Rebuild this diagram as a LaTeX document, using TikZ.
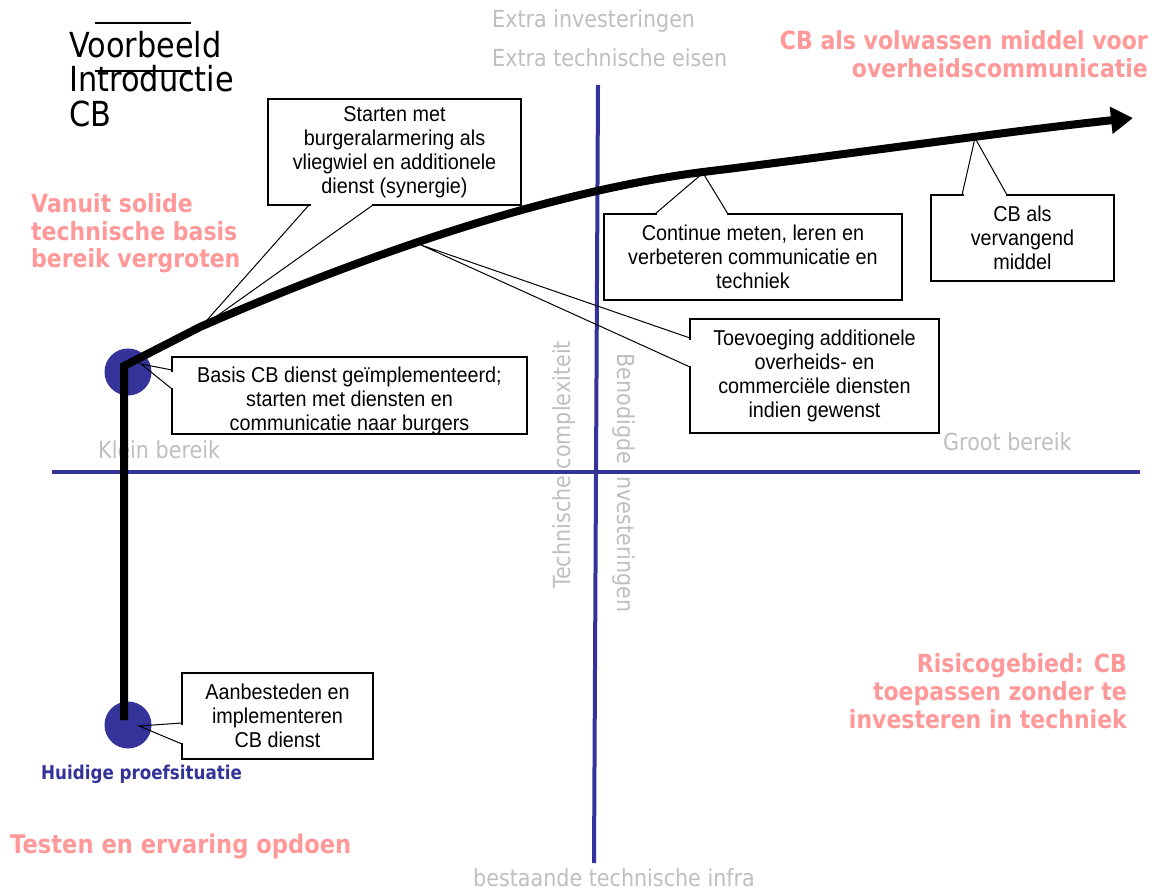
\documentclass[tikz,border=0pt]{standalone}
\usepackage{fontspec}
\setmainfont{Liberation Sans}[FakeStretch=0.92]
\newfontfamily\tah{DejaVu Sans}[FakeStretch=0.88]
\usetikzlibrary{arrows.meta}
\definecolor{axisblue}{HTML}{333399}
\definecolor{pinktxt}{HTML}{FF9999}
\definecolor{graytxt}{HTML}{BFBFBF}
\begin{document}
\begin{tikzpicture}[x=1pt,y=-1pt,
  graylbl/.style={font=\tah\fontsize{23.5}{28}\selectfont, text=graytxt, inner sep=0},
  pinklbl/.style={font=\tah\bfseries\fontsize{25}{28}\selectfont, text=pinktxt, inner sep=0},
  titlelbl/.style={font=\tah\fontsize{34.5}{34}\selectfont, text=black, inner sep=0, anchor=base west},
  callout/.style={draw=black, line width=1.2pt, fill=white, inner sep=0, align=center,
                  font=\fontsize{21.5}{24}\selectfont},
  erase/.style={draw=white, line width=2.6pt},
  ptr/.style={draw=black, line width=1pt},
  axisline/.style={draw=axisblue, line width=4pt},
  spot/.style={circle, fill=axisblue, minimum size=47pt, inner sep=0},
  trail/.style={draw=black, line width=8pt, -{Triangle[length=22pt,width=26pt]}}
]
\useasboundingbox (0,0) rectangle (1156,893);
\fill[white] (0,0) rectangle (1156,893);

% title
\coordinate (t1a) at (95,23); \coordinate (t1b) at (191,23);
\coordinate (t2a) at (95,71); \coordinate (t2b) at (191,71);
\node[titlelbl] (title1) at (69,58) {Voorbeeld};
\node[titlelbl] (title2) at (69,92) {Introductie};
\node[titlelbl] (title3) at (69,127) {CB};
\draw[line width=1.5pt] (t1a) -- (t1b);
\draw[line width=1.5pt] (t2a) -- (t2b);

% gray labels
\node[graylbl, anchor=base west] (extra1) at (492,28) {Extra investeringen};
\node[graylbl, anchor=base west] (extra2) at (492,67) {Extra technische eisen};
\node[graylbl, anchor=base west] (klein) at (98,458) {Klein bereik};
\node[graylbl, anchor=base west] (groot) at (943,450) {Groot bereik};
\node[graylbl, anchor=base west] (infra) at (473,886) {bestaande technische infra};
\node[graylbl, rotate=90] (techc) at (564,465) {Technische complexiteit};
\node[graylbl, rotate=-90] (benod) at (624,483) {Benodigde investeringen};

% axes
\coordinate (hx1) at (52,472); \coordinate (hx2) at (1140,472);
\coordinate (vx1) at (598,85); \coordinate (vx2) at (594,863);
\draw[axisline] (hx1) -- (hx2);
\draw[axisline] (vx1) -- (vx2);

% spots
\node[spot] (spotE) at (128,372) {};
\node[spot] (spotF) at (128,725) {};

% main trail
\coordinate (p0) at (124,720);
\coordinate (p1) at (124,366);
\coordinate (p2) at (200,327);
\coordinate (p3) at (703,172);
\coordinate (p4) at (1133,118);
\draw[trail] (p0) -- (p1) -- (p2) .. controls (380,248) and (560,190) .. (p3)
  .. controls (850,154) and (1010,131) .. (p4);

% callout A
\node[callout, minimum width=253pt, minimum height=106pt] (boxA) at (394.5,152)
  {Starten met\\burgeralarmering als\\vliegwiel en additionele\\dienst (synergie)};
\coordinate (a1) at (309,205); \coordinate (a2) at (373,205); \coordinate (atip) at (200,328);
\draw[erase] (310.5,205) -- (371.5,205);
\draw[ptr] (a1) -- (atip) -- (a2);

% callout B
\node[callout, minimum width=298pt, minimum height=86pt] (boxB) at (753,257)
  {Continue meten, leren en\\verbeteren communicatie en\\techniek};
\coordinate (b1) at (655,214); \coordinate (b2) at (728,214); \coordinate (btip) at (703,173);
\draw[erase] (656.5,214) -- (726.5,214);
\draw[ptr] (b1) -- (btip) -- (b2);

% callout C
\node[callout, minimum width=183pt, minimum height=86pt] (boxC) at (1022.5,238)
  {CB als\\vervangend\\middel};
\coordinate (c1) at (962,195); \coordinate (c2) at (1007,195); \coordinate (ctip) at (975,138);
\draw[erase] (963.5,195) -- (1005.5,195);
\draw[ptr] (c1) -- (ctip) -- (c2);

% callout D
\node[callout, minimum width=249pt, minimum height=114pt] (boxD) at (814.5,376)
  {Toevoeging additionele\\overheids- en\\commerciële diensten\\indien gewenst};
\coordinate (d1) at (690,338); \coordinate (d2) at (690,367); \coordinate (dtip) at (421,245);
\draw[erase] (690,339.5) -- (690,365.5);
\draw[ptr] (d1) -- (dtip) -- (d2);

% callout E
\node[callout, minimum width=355pt, minimum height=77pt] (boxE) at (349.5,395.5)
  {\raisebox{-6pt}[\height][\depth]{\begin{tabular}{@{}c@{}}Basis CB dienst geïmplementeerd;\\starten met diensten en\\communicatie naar burgers\end{tabular}}};
\coordinate (e1) at (172,370); \coordinate (e2) at (172,389); \coordinate (etip) at (141,364);
\draw[erase] (172,371.5) -- (172,387.5);
\draw[ptr] (e1) -- (etip) -- (e2);

% callout F
\node[callout, minimum width=191pt, minimum height=86pt] (boxF) at (277.5,716)
  {Aanbesteden en\\implementeren\\CB dienst};
\coordinate (f1) at (182,723); \coordinate (f2) at (182,744); \coordinate (ftip) at (139,726);
\draw[erase] (182,724.5) -- (182,742.5);
\draw[ptr] (f1) -- (ftip) -- (f2);

% pink labels
\node[pinklbl, anchor=base east] (cbl1) at (1148,50) {CB als volwassen middel voor};
\node[pinklbl, anchor=base east] (cbl2) at (1148,78) {overheidscommunicatie};
\node[pinklbl, anchor=base west] (van1) at (31,213) {Vanuit solide};
\node[pinklbl, anchor=base west] (van2) at (31,241) {technische basis};
\node[pinklbl, anchor=base west] (van3) at (31,268) {bereik vergroten};
\node[pinklbl, anchor=base east] (ris1) at (1127,672) {Risicogebied: CB};
\node[pinklbl, anchor=base east] (ris2) at (1127,700) {toepassen zonder te};
\node[pinklbl, anchor=base east] (ris3) at (1127,728) {investeren in techniek};
\node[pinklbl, anchor=base west, font=\tah\bfseries\fontsize{25.7}{28}\selectfont] (test) at (10,853) {Testen en ervaring opdoen};

% blue label
\node[font=\tah\bfseries\fontsize{19}{22}\selectfont, text=axisblue, inner sep=0, anchor=base west]
  (huidig) at (41,779) {Huidige proefsituatie};
\end{tikzpicture}
\end{document}
